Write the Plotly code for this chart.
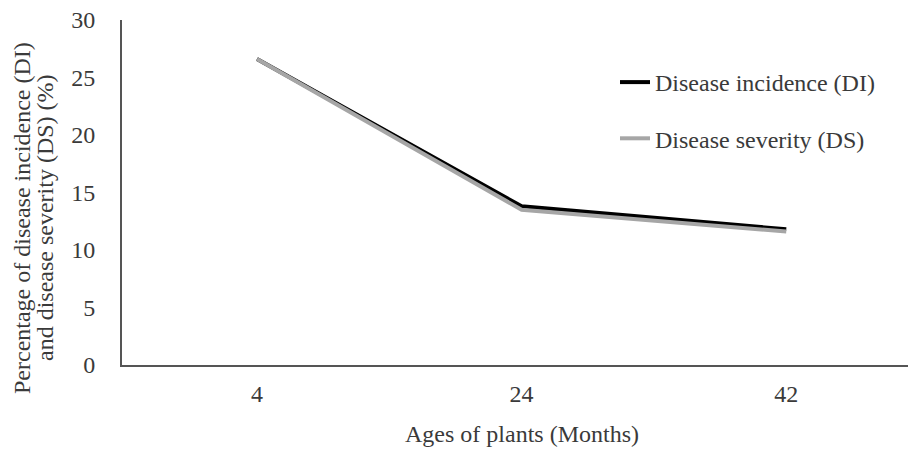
import plotly.graph_objects as go

ages = ["4", "24", "42"]
di_values = [26.6, 13.8, 11.8]
ds_values = [26.6, 13.5, 11.6]
y_ticks = [0, 5, 10, 15, 20, 25, 30]

FONT = "Liberation Serif"
TXT = "#3a3a3a"
FS = 24

fig = go.Figure()
fig.add_trace(go.Scatter(x=ages, y=di_values, mode="lines", name="Disease incidence (DI)",
                         legendgroup="di", line=dict(color="#000000", width=4)))
fig.add_trace(go.Scatter(x=ages, y=ds_values, mode="lines", name="Disease severity (DS)",
                         legendgroup="ds", line=dict(color="#a6a6a6", width=4)))

L, T, B, W, H = 122, 20, 85, 910, 450
pw = W - L - 2
ph = H - T - B

def px_x(px):
    return (px - L) / pw

def px_y(py):
    return (H - B - py) / ph

fig.update_layout(
    width=W, height=H,
    margin=dict(l=L, r=2, t=T, b=B),
    plot_bgcolor="white", paper_bgcolor="white",
    font=dict(family=FONT, size=FS, color=TXT),
    showlegend=True,
    legend=dict(x=px_x(615), y=px_y(60), xanchor="left", yanchor="top",
                font=dict(family=FONT, size=FS, color=TXT),
                tracegroupgap=22, bgcolor="rgba(0,0,0,0)"),
    xaxis=dict(type="category", range=[-0.51, 2.46], showline=True, linecolor="#555555",
               linewidth=2, showgrid=False, ticks="", ticklabelstandoff=6, automargin=False,
               tickfont=dict(family=FONT, size=FS, color=TXT)),
    yaxis=dict(range=[0, 30], tickvals=y_ticks, showline=True, linecolor="#555555",
               linewidth=2, showgrid=False, zeroline=False, ticks="", ticklabelstandoff=20,
               automargin=False, tickfont=dict(family=FONT, size=FS, color=TXT)),
    annotations=[
        dict(text="Percentage of disease incidence (DI)", xref="paper", yref="paper",
             x=px_x(22), y=px_y(218), xanchor="center", yanchor="middle", textangle=-90,
             showarrow=False, font=dict(family=FONT, size=FS, color=TXT)),
        dict(text="and disease severity (DS) (%)", xref="paper", yref="paper",
             x=px_x(45), y=px_y(218), xanchor="center", yanchor="middle", textangle=-90,
             showarrow=False, font=dict(family=FONT, size=FS, color=TXT)),
        dict(text="Ages of plants (Months)", xref="paper", yref="paper",
             x=px_x(522), y=px_y(434), xanchor="center", yanchor="middle",
             showarrow=False, font=dict(family=FONT, size=FS, color=TXT)),
    ],
)

fig.write_html("out.html", config={"displayModeBar": False},
               post_script="document.body.style.margin='0';")
